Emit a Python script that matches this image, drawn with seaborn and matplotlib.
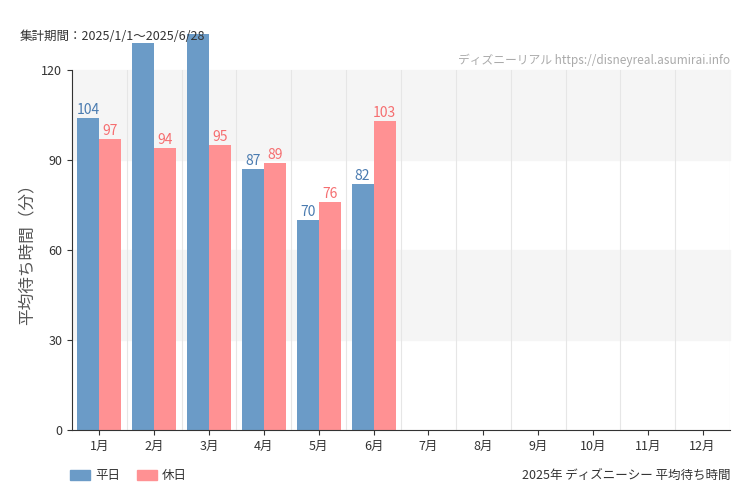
import pandas as pd
import numpy as np
import seaborn as sns
import matplotlib.pyplot as plt

plt.rcParams['font.family'] = 'Noto Sans CJK JP'

months = [f'{i}月' for i in range(1, 13)]
weekday = [104, 129, 132, 87, 70, 82]
holiday = [97, 94, 95, 89, 76, 103]

# 7月以降は空
wd = weekday + [np.nan] * 6
hd = holiday + [np.nan] * 6
df = pd.DataFrame({
    'month': months * 2,
    'value': wd + hd,
    'type': ['平日'] * 12 + ['休日'] * 12,
})

colors = {'平日': '#6b9bc7', '休日': '#ff9193'}
label_colors = {'平日': '#4a7bb0', '休日': '#f56e70'}

fig = plt.figure(figsize=(7.5, 5), dpi=100)
ax = fig.add_axes([72 / 750, 70 / 500, 658 / 750, 360 / 500])

ax.axhspan(90, 120, color='#f5f5f5', zorder=0)
ax.axhspan(30, 60, color='#f5f5f5', zorder=0)
for k in range(12):
    ax.axvline(k + 0.5, color='#e6e6e6', lw=0.8, zorder=0)

sns.barplot(data=df, x='month', y='value', hue='type', order=months,
            palette=colors, width=0.8, saturation=1, ax=ax, zorder=2,
            legend=False)

for cont, t in zip(ax.containers, ['平日', '休日']):
    labels = ['' if np.isnan(v) else f'{int(v)}' for v in cont.datavalues]
    ax.bar_label(cont, labels=labels, color=label_colors[t], fontsize=10,
                 padding=1, clip_on=False)
for p in ax.patches:
    p.set_clip_on(False)

ax.set_ylim(0, 120)
ax.set_xlim(-0.5, 11.5)
ax.set_yticks([0, 30, 60, 90, 120])
ax.set_xlabel('')
ax.set_ylabel('平均待ち時間（分）', fontsize=12, color='#555555')
ax.tick_params(labelsize=9, colors='#333333')
for s in ['top', 'right']:
    ax.spines[s].set_visible(False)
ax.spines['left'].set_color('#333333')
ax.spines['bottom'].set_color('#333333')

fig.text(20 / 750, 1 - 37 / 500, '集計期間：2025/1/1～2025/6/28', fontsize=9,
         color='#333333', va='center')
fig.text(730 / 750, 1 - 60 / 500,
         'ディズニーリアル https://disneyreal.asumirai.info', fontsize=8.5,
         color='#aaaaaa', ha='right', va='center')
fig.text(730 / 750, 1 - 475 / 500, '2025年 ディズニーシー 平均待ち時間',
         fontsize=9, color='#333333', ha='right', va='center')

# 凡例
fig.patches.append(plt.Rectangle((70 / 750, 1 - 480 / 500), 20 / 750, 10 / 500,
                                 transform=fig.transFigure, color=colors['平日']))
fig.text(95 / 750, 1 - 475 / 500, '平日', fontsize=9, va='center', color='#333333')
fig.patches.append(plt.Rectangle((137 / 750, 1 - 480 / 500), 20 / 750, 10 / 500,
                                 transform=fig.transFigure, color=colors['休日']))
fig.text(162 / 750, 1 - 475 / 500, '休日', fontsize=9, va='center', color='#333333')

fig.savefig('out.png', dpi=100, facecolor='white')
